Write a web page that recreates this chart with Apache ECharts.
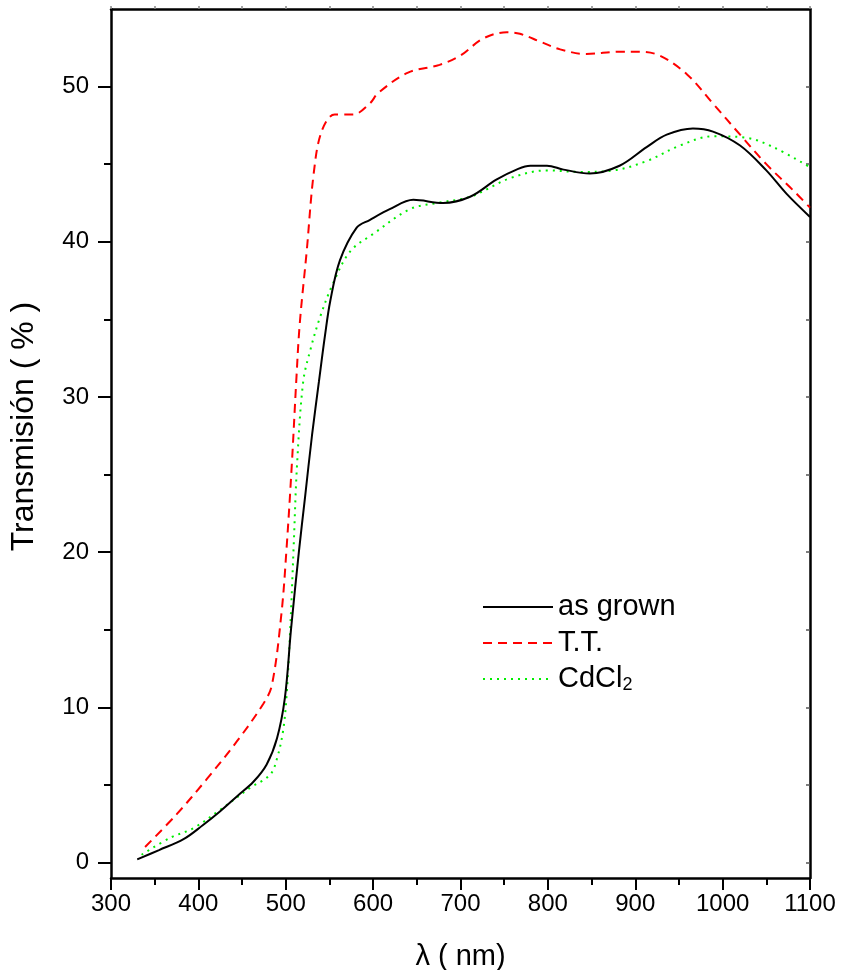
<!DOCTYPE html>
<html>
<head>
<meta charset="utf-8">
<script src="https://cdn.jsdelivr.net/npm/echarts@6/dist/echarts.min.js"></script>
<style>html,body{margin:0;padding:0;background:#fff}#c{width:841px;height:970px}</style>
</head>
<body>
<div id="c"></div>
<script>
// ---- data ----
var seriesNames = ['as grown', 'T.T.', 'CdCl2'];

var grownX = [330, 355, 383, 405, 425, 445, 463, 478, 490, 499, 506, 515, 522, 530, 538, 545, 551, 562, 581, 596, 619, 646, 680, 711, 741, 766, 780, 799, 818, 848, 882, 913, 936, 966, 989, 1020, 1050, 1073, 1100];
var grownY = [0.2, 0.8, 1.5, 2.4, 3.3, 4.3, 5.2, 6.3, 8.0, 10.6, 15.0, 20.0, 23.5, 27.5, 31.0, 34.0, 36.2, 38.8, 40.9, 41.4, 42.1, 42.7, 42.5, 42.9, 44.0, 44.7, 44.9, 44.9, 44.65, 44.4, 44.9, 46.1, 46.9, 47.3, 47.1, 46.2, 44.6, 43.1, 41.6];

var ttX = [339, 375, 410, 444, 474, 484, 495, 501, 507, 512, 516, 524, 532, 541, 556, 577, 596, 606, 640, 676, 700, 726, 753, 768, 791, 814, 844, 882, 905, 928, 959, 989, 1020, 1050, 1081, 1100];
var ttY = [1.0, 3.1, 5.4, 7.8, 10.2, 11.4, 16.0, 20.3, 25.7, 31.0, 34.7, 39.4, 44.4, 47.1, 48.2, 48.2, 48.9, 49.6, 50.9, 51.4, 52.0, 53.1, 53.5, 53.4, 52.9, 52.4, 52.1, 52.25, 52.25, 52.0, 50.8, 48.9, 46.9, 45.0, 43.3, 42.2];

var cdX = [335, 368, 394, 425, 459, 482, 490, 497, 501, 505, 509, 513, 520, 528, 539, 554, 574, 600, 642, 673, 711, 757, 799, 837, 875, 913, 951, 989, 1027, 1058, 1100];
var cdY = [0.5, 1.6, 2.2, 3.4, 4.8, 5.65, 6.7, 8.5, 10.8, 14.9, 20.3, 25.7, 31.0, 33.0, 35.1, 37.3, 39.4, 40.5, 42.1, 42.5, 42.9, 44.1, 44.6, 44.5, 44.6, 45.2, 46.2, 46.8, 46.7, 46.1, 44.8];

var yLabelValues = [0, 10, 20, 30, 40, 50];
var yMinorValues = [5, 15, 25, 35, 45];
var yAllValues = [0, 5, 10, 15, 20, 25, 30, 35, 40, 45, 50];
var xTitle = 'λ ( nm)';
var yTitle = 'Transmisión ( % )';

function pairs(xs, ys) { return xs.map(function (x, i) { return [x, ys[i]]; }); }

var FONT = '"Liberation Sans", Arial, sans-serif';
var chart = echarts.init(document.getElementById('c'), null, { renderer: 'canvas' });

var yBase = { type: 'value', min: -1, max: 55, splitLine: { show: false } };

chart.setOption({
  animation: false,
  backgroundColor: '#fff',
  grid: { left: 111, right: 31, top: 9, bottom: 92, containLabel: false, outerBoundsMode: 'none' },
  xAxis: [
    {
      type: 'value', position: 'bottom', min: 300, max: 1100, interval: 100,
      splitLine: { show: false },
      axisLine: { show: true, onZero: false, lineStyle: { color: '#000', width: 2.5 } },
      axisTick: { show: true, inside: false, length: 12, lineStyle: { color: '#000', width: 2 } },
      minorTick: { show: true, splitNumber: 2, length: 7, lineStyle: { color: '#000', width: 2 } },
      axisLabel: { color: '#000', fontSize: 24, fontFamily: FONT, margin: 14, formatter: function (v) { return String(v); } },
      name: xTitle, nameLocation: 'middle', nameGap: 64,
      nameTextStyle: { color: '#000', fontSize: 29, fontFamily: FONT }
    },
    {
      type: 'value', position: 'top', min: 300, max: 1100, interval: 50,
      splitLine: { show: false },
      axisLine: { show: true, onZero: false, lineStyle: { color: '#000', width: 2.5 } },
      axisTick: { show: true, inside: false, length: 3, lineStyle: { color: '#888', width: 1.5 } },
      axisLabel: { show: false }
    }
  ],
  yAxis: [
    Object.assign({}, yBase, {
      position: 'left',
      axisLine: { show: true, onZero: false, lineStyle: { color: '#000', width: 2.5 } },
      axisTick: { show: true, inside: false, length: 13, customValues: yLabelValues, lineStyle: { color: '#000', width: 2 } },
      axisLabel: { show: true, customValues: yLabelValues, color: '#000', fontSize: 24, fontFamily: FONT, margin: 22 },
      name: yTitle, nameLocation: 'middle', nameGap: 71, nameRotate: 90,
      nameTextStyle: { color: '#000', fontSize: 32, fontFamily: FONT, padding: [0, 0, 0, 34] }
    }),
    Object.assign({}, yBase, {
      position: 'left',
      axisLine: { show: false },
      axisTick: { show: true, inside: false, length: 7, customValues: yMinorValues, lineStyle: { color: '#000', width: 2 } },
      axisLabel: { show: false }
    }),
    Object.assign({}, yBase, {
      position: 'right',
      axisLine: { show: true, onZero: false, lineStyle: { color: '#000', width: 2.5 } },
      axisTick: { show: true, inside: true, length: 4, customValues: yAllValues, lineStyle: { color: '#555', width: 1.5 } },
      axisLabel: { show: false }
    })
  ],
  legend: {
    orient: 'vertical', left: 477, top: 587,
    itemWidth: 70, itemHeight: 14, itemGap: 6,
    data: seriesNames,
    itemStyle: { opacity: 0 },
    textStyle: {
      color: '#000', fontSize: 29, fontFamily: FONT, lineHeight: 30,
      rich: { sub: { fontSize: 18, fontFamily: FONT, color: '#000', verticalAlign: 'bottom', lineHeight: 30 } }
    },
    formatter: function (n) { return n === 'CdCl2' ? 'CdCl{sub|2}' : n; }
  },
  series: [
    {
      name: seriesNames[0], type: 'line', data: pairs(grownX, grownY), xAxisIndex: 0, yAxisIndex: 0,
      symbol: 'none', showSymbol: false, smooth: 0.35,
      lineStyle: { color: '#000', width: 2 }, itemStyle: { color: '#000' }, z: 4
    },
    {
      name: seriesNames[1], type: 'line', data: pairs(ttX, ttY), xAxisIndex: 0, yAxisIndex: 0,
      symbol: 'none', showSymbol: false, smooth: 0.35,
      lineStyle: { color: '#ff0000', width: 2, type: [9, 6] }, itemStyle: { color: '#ff0000' }, z: 3
    },
    {
      name: seriesNames[2], type: 'line', data: pairs(cdX, cdY), xAxisIndex: 0, yAxisIndex: 0,
      symbol: 'none', showSymbol: false, smooth: 0.35,
      lineStyle: { color: '#00ee00', width: 2, type: [2, 5] }, itemStyle: { color: '#00ee00' }, z: 3
    }
  ]
});
</script>
</body>
</html>
